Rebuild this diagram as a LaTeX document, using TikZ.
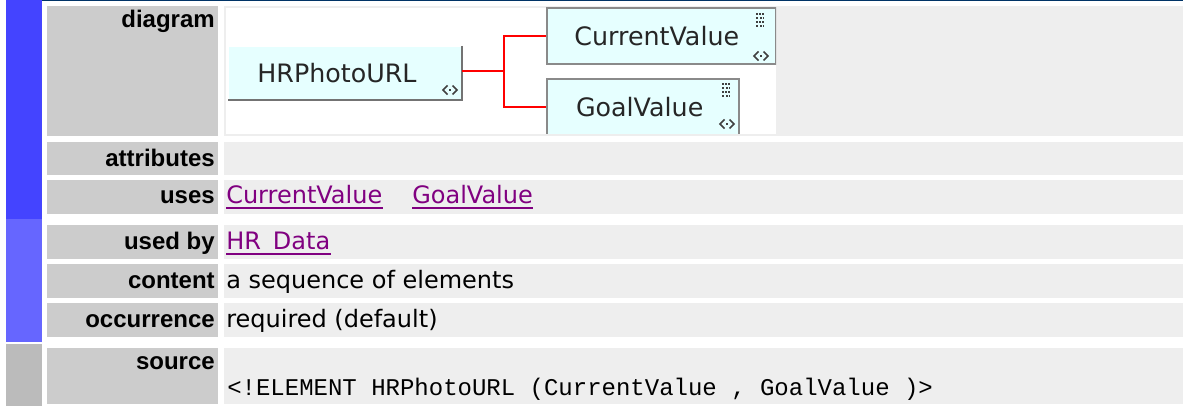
\documentclass[tikz,border=0pt]{standalone}
\usepackage{fontspec}
\setmainfont{DejaVu Sans}
\newfontfamily\headfont{Liberation Sans}
\setmonofont{Liberation Mono}
\usetikzlibrary{positioning}

\definecolor{barblue}{HTML}{4444FF}
\definecolor{barlight}{HTML}{6666FF}
\definecolor{bargrey}{HTML}{BBBBBB}
\definecolor{headgrey}{HTML}{CCCCCC}
\definecolor{cellgrey}{HTML}{EEEEEE}
\definecolor{topline}{HTML}{003366}
\definecolor{boxfill}{HTML}{E6FFFF}
\definecolor{boxline}{HTML}{8A8A8A}
\definecolor{icondark}{HTML}{404040}
\definecolor{linkpurple}{HTML}{800080}

% "<.>" mark at the lower right of an element box
\newcommand{\seqmark}[2]{%
  \draw[iconline] (#1-2.5,#2-4.5) -- (#1-7,#2) -- (#1-2.5,#2+4.5);
  \draw[iconline] (#1+2.5,#2-4.5) -- (#1+7,#2) -- (#1+2.5,#2+4.5);
  \fill[icondark] (#1-1,#2-1) rectangle (#1+1,#2+1);}
% small grid mark at the upper right of an element box
\newcommand{\gridmark}[2]{%
  \foreach \r in {0,8} {
    \foreach \c in {0,3,6}
      \fill[icondark] (#1+\c,#2+\r) rectangle ++(2,2);
    \foreach \c in {0,4,6.5}
      \fill[icondark] (#1+\c,#2+\r+4) rectangle ++(1.5,2);
  }}

\begin{document}
\begin{tikzpicture}[x=0.75pt, y=-0.75pt,
    head/.style={anchor=base east, inner sep=0pt, font=\headfont\bfseries\fontsize{18}{22}\selectfont},
    cell/.style={anchor=base west, inner sep=0pt, font=\fontsize{18}{22}\selectfont},
    link/.style={cell, text=linkpurple},
    elem/.style={draw=boxline, line width=1.5pt, fill=boxfill, inner sep=0pt, text=black!85,
      font=\fontsize{19}{22}\selectfont},
    wire/.style={draw=red, line width=1.5pt},
    iconline/.style={icondark, line width=1.1pt}]
  \useasboundingbox (0,0) rectangle (1183,406);
  \fill[white] (0,0) rectangle (1183,406);

  \fill[barblue] (6,0) rectangle (42,219);
  \fill[barlight] (6,219) rectangle (42,342);
  \fill[bargrey] (6,344) rectangle (42,406);
  \fill[topline] (42,0) rectangle (1183,1.5);

  \foreach \top/\bot in {6/136, 142/175, 180/214, 225/259, 264/298, 303/337, 348/404} {
    \fill[headgrey] (47,\top) rectangle (218,\bot);
    \fill[cellgrey] (224,\top) rectangle (1183,\bot);
  }
  \fill[white] (226,8) rectangle (776,134);

  \node[head] (diagram) at (215,28) {diagram};
  \node[head] (attributes) at (215,167) {attributes};
  \node[head] (uses) at (215,204) {uses};
  \node[head] (usedby) at (215,250) {used by};
  \node[head] (content) at (215,289) {content};
  \node[head] (occurrence) at (215,328) {occurrence};
  \node[head] (source) at (215,369) {source};

  \begin{scope}
    \clip (226,8) rectangle (776,134);
    \node[elem, draw=none, minimum width=174pt, minimum height=39pt] (root) at (345,73) {\hspace*{-12pt}HRPhotoURL};
    \draw[draw=black!55, line width=1.5pt] (root.north east) -- (root.south east) -- (root.south west);
    \node[elem, minimum width=171.75pt, minimum height=42pt] (cv) at (661.5,36.5) {\hspace*{-7pt}CurrentValue};
    \node[elem, minimum width=144pt, minimum height=42pt] (gv) at (643,107.5) {\hspace*{-5pt}GoalValue};

    \coordinate (fork) at (504,71);
    \draw[wire] (root.east |- fork) -- (fork);
    \draw[wire] (fork) |- (cv.west);
    \draw[wire] (fork) |- (gv.west);

    \seqmark{450}{90}
    \seqmark{761}{56}
    \seqmark{727}{124}
    \gridmark{756}{13}
    \gridmark{722}{83}
  \end{scope}

  \node[link] (usecv) at (226,204) {CurrentValue};
  \node[link] (usegv) at (412,204) {GoalValue};
  \node[link] (hrdata) at (226,250) {HR\_Data};
  \foreach \n in {usecv, usegv, hrdata}
    \draw[linkpurple, line width=0.8pt] ([yshift=-3pt]\n.base west) -- ([yshift=-3pt]\n.base east);

  \node[cell] (sequence) at (226,289) {a sequence of elements};
  \node[cell] (required) at (226,328) {required (default)};
  \node[cell, font=\ttfamily\fontsize{18}{22}\selectfont] (element) at (227,395)
    {<!ELEMENT HRPhotoURL (CurrentValue , GoalValue )>};
\end{tikzpicture}
\end{document}
